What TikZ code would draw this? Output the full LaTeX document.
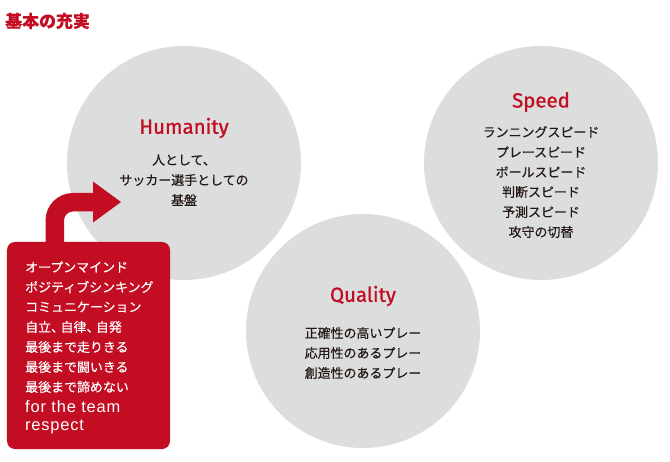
\documentclass[tikz,border=0pt]{standalone}
\usepackage{fontspec}
\usepackage{xcolor}
\usepackage{tikz}
\usetikzlibrary{calc}
\setmainfont{Noto Sans CJK JP}[FakeBold=0.35]
\newfontfamily\headfont{Fira Sans}[FakeBold=1.1]
\newfontfamily\boxlatin{Liberation Sans}[LetterSpace=5]
\definecolor{kred}{HTML}{C30D23}
\definecolor{kgray}{HTML}{DCDDDD}
\definecolor{ktext}{HTML}{231815}
\tikzstyle{bigarrow} = [fill=kred, draw=none]

\begin{document}
\begin{tikzpicture}[x=1bp, y=-1bp,
				ring/.style= {circle, fill=kgray, minimum size=234bp, inner sep=0pt},
				head/.style= {text=kred, font={\headfont\fontsize{20.5}{24}\selectfont}},
				line/.style= {text=ktext, inner sep=0pt, font={\fontsize{13}{20}\selectfont}},
				mind/.style= {text=white, anchor=west, inner sep=0pt, font={\fontsize{13}{20}\selectfont}}
			]
			\useasboundingbox (0,0) rectangle (670,462);
			
			\node (title) [anchor=west, inner sep=0pt, text=kred, font={\bfseries\fontsize{17}{20}\selectfont}] at (5,21) {基本の充実};
			
			\node (hum) [ring] at (184,163) {};
			\node (spd) [ring] at (541,163) {};
			\node (qua) [ring] at (363,331) {};
			
			\node (humT) [head] at (hum |- 0,128) {Humanity};
			\node (spdT) [head] at (spd |- 0,102) {Speed};
			\node (quaT) [head] at (qua |- 0,296) {Quality};
			
			\foreach \t [count=\i] in {人として、, サッカー選手としての, 基盤}{
				\node (hum\i) [line] at (184, 140+20*\i) {\t};
			}
			\foreach \t [count=\i] in {ランニングスピード, プレースピード, ボールスピード, 判断スピード, 予測スピード, 攻守の切替}{
				\node (spd\i) [line] at (541, 112+20*\i) {\t};
			}
			\foreach \t [count=\i] in {正確性の高いプレー, 応用性のあるプレー, 創造性のあるプレー}{
				\node (qua\i) [line] at (363, 313+20*\i) {\t};
			}
			
			\node (box) [fill=kred, rounded corners=8bp, minimum width=163bp, minimum height=207bp] at (88.5,345.5) {};
			\foreach \t [count=\i] in {オープンマインド, ポジティブシンキング, コミュニケーション, 自立、\kern-3.5bp 自律、\kern-3.5bp 自発, 最後まで走りきる, 最後まで闘いきる, 最後まで諦めない}{
				\node (mind\i) [mind] at (25, 247+20*\i) {\t};
			}
			\node (mind8) [mind, font={\boxlatin\fontsize{16.5}{20}\selectfont}] at (25, 407) {for the team};
			\node (mind9) [mind, font={\boxlatin\fontsize{16.5}{20}\selectfont}] at (25, 427) {respect};
			
			\coordinate (turn) at (73,220.5);
			\fill [bigarrow] ($(turn)+(-27.5,22.5)$) -- ($(turn)+(-27.5,0)$)
				.. controls ($(turn)+(-27.5,-15.2)$) and ($(turn)+(-15.2,-27.5)$) .. ($(turn)+(0,-27.5)$)
				-- (93,193) -- (93,181.5) -- (121,202) -- (93,222.5) -- (93,211.5) -- ($(turn)+(0,-9)$)
				.. controls ($(turn)+(-5,-9)$) and ($(turn)+(-9,-5)$) .. ($(turn)+(-9,0)$)
				-- ($(turn)+(-9,22.5)$) -- cycle;
		\end{tikzpicture}
\end{document}
